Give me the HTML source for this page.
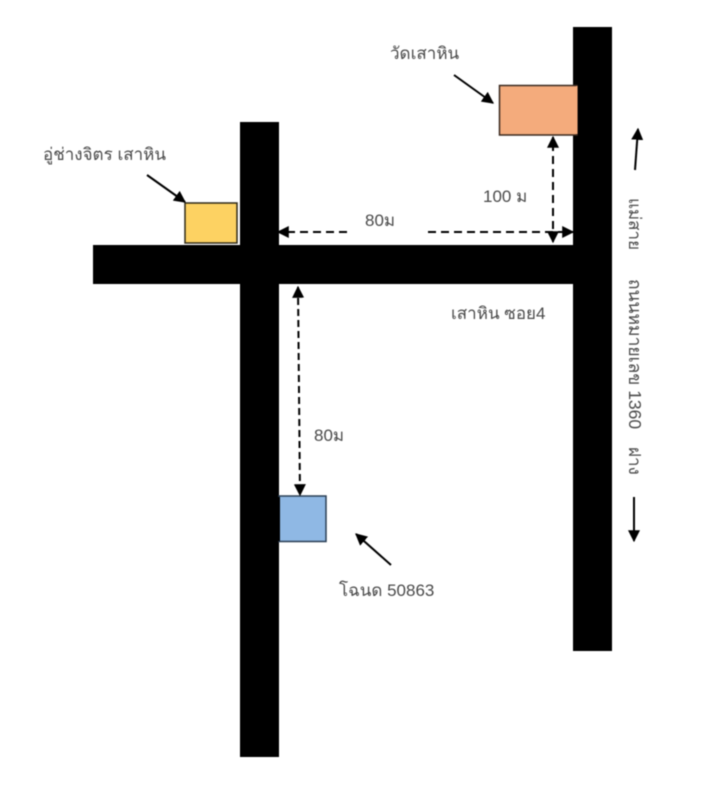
<!DOCTYPE html>
<html lang="th">
<head>
<meta charset="utf-8">
<style>
html,body{margin:0;padding:0;background:#fff;}
svg{display:block;filter:blur(0.45px);}
text{font-family:"Liberation Sans","Noto Sans CJK SC",sans-serif;font-size:17px;fill:#4a4a4a;}
</style>
</head>
<body>
<svg width="711" height="800" viewBox="0 0 711 800" xmlns="http://www.w3.org/2000/svg">
<defs>
<marker id="a" viewBox="0 0 10 10" refX="9" refY="5" markerWidth="12" markerHeight="12" markerUnits="userSpaceOnUse" orient="auto-start-reverse"><path d="M0 0L10 5L0 10Z" fill="#000"/></marker>
<marker id="b" viewBox="0 0 10 10" refX="9" refY="5" markerWidth="12" markerHeight="12" markerUnits="userSpaceOnUse" orient="auto-start-reverse"><path d="M0 0L10 5L0 10Z" fill="#000"/></marker>
</defs>
<rect width="711" height="800" fill="#fff"/>

<rect x="185" y="203" width="52" height="40" fill="#fdd262" stroke="#2e2a18" stroke-width="1.5"/>

<rect x="573" y="27" width="39" height="624" fill="#000"/>
<rect x="240" y="122" width="39" height="635" fill="#000"/>
<rect x="93" y="245" width="490" height="39" fill="#000"/>
<rect x="499.500" y="85.500" width="77.500" height="49.500" fill="#f4ab7c" stroke="#3a2a20" stroke-width="1.500"/>
<rect x="576" y="86" width="1.500" height="48" fill="#f4ab7c"/>
<rect x="279" y="496" width="47" height="45.500" fill="#8fb8e4" stroke="#2b3f55" stroke-width="1.500"/>
<rect x="277" y="497" width="3" height="44" fill="#000"/>

<!-- dimension arrows -->
<path d="M347 232H278" stroke="#000" stroke-width="2" stroke-dasharray="8 5" fill="none" marker-end="url(#b)"/>
<path d="M428 232H573" stroke="#000" stroke-width="2" stroke-dasharray="8 5" fill="none" marker-end="url(#b)"/>
<path d="M553 242V137" stroke="#000" stroke-width="2" stroke-dasharray="8 5" fill="none" marker-start="url(#b)" marker-end="url(#b)"/>
<path d="M298 287L300 495" stroke="#000" stroke-width="2" stroke-dasharray="7 4" fill="none" marker-start="url(#b)" marker-end="url(#b)"/>

<!-- pointer arrows -->
<path d="M454 75L493 103" stroke="#000" stroke-width="2" fill="none" marker-end="url(#a)"/>
<path d="M147 175L185 202" stroke="#000" stroke-width="2" fill="none" marker-end="url(#a)"/>
<path d="M391 565L356 534" stroke="#000" stroke-width="2" fill="none" marker-end="url(#a)"/>
<path d="M635 170L638 129" stroke="#000" stroke-width="2" fill="none" marker-end="url(#a)"/>
<path d="M634 497V541" stroke="#000" stroke-width="2" fill="none" marker-end="url(#a)"/>

<!-- labels -->
<text x="390" y="59">วัดเสาหิน</text>
<text x="43" y="160">อู่ช่างจิตร เสาหิน</text>
<text x="483" y="202">100 ม</text>
<text x="365" y="226">80ม</text>
<text x="451" y="319">เสาหิน ซอย4</text>
<text x="314" y="441">80ม</text>
<text x="339" y="596">โฉนด 50863</text>
<text transform="translate(629,198) rotate(90)">แม่สาย</text>
<text transform="translate(629,279) rotate(90)" style="font-size:17.5px">ถนนหมายเลข 1360</text>
<text transform="translate(629,447) rotate(90)">ฝาง</text>
</svg>
</body>
</html>
